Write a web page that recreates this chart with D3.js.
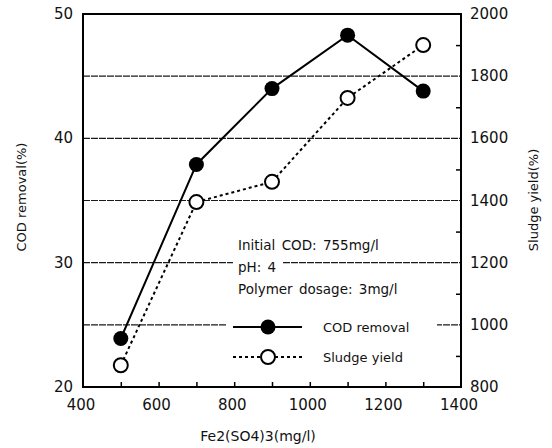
<!DOCTYPE html>
<html><head><meta charset="utf-8">
<script src="https://cdn.jsdelivr.net/npm/d3@7"></script>
<style>body{margin:0;background:#fff}text{font-family:"DejaVu Sans",sans-serif;fill:#111}</style>
</head><body><svg id="c" width="552" height="448"></svg>
<script>
const doses = [500, 700, 900, 1100, 1300];
const codRemoval = [23.9, 37.9, 44.0, 48.3, 43.8];
const sludgeYield = [870, 1395, 1460, 1730, 1900];
const xTicks = [400, 600, 800, 1000, 1200, 1400];
const leftTicks = [20, 30, 40, 50];
const rightTicks = [800, 1000, 1200, 1400, 1600, 1800, 2000];
const gridVals = [25, 30, 35, 40, 45];
const notes = ["Initial COD: 755mg/l", "pH: 4", "Polymer dosage: 3mg/l"];
const legendNames = ["COD removal", "Sludge yield"];

const svg = d3.select("#c");
const L = 83, R = 461, T = 14, B = 387;
const x = d3.scaleLinear().domain([400, 1400]).range([L, R]);
const yL = d3.scaleLinear().domain([20, 50]).range([B, T]);
const yR = d3.scaleLinear().domain([800, 2000]).range([B, T]);

// gridlines
svg.append("g").selectAll("line").data(gridVals).join("line")
  .attr("x1", L).attr("x2", R).attr("y1", d => yL(d)).attr("y2", d => yL(d))
  .attr("stroke", "#1a1a1a").attr("stroke-width", 1.2).attr("stroke-dasharray", "7,1");

// white backgrounds behind legend/notes
svg.append("rect").attr("x", 233).attr("y", 256).attr("width", 49).attr("height", 16).attr("fill", "#fff");
svg.append("rect").attr("x", 227).attr("y", 318).attr("width", 210).attr("height", 18).attr("fill", "#fff");

// frame
svg.append("rect").attr("x", L).attr("y", T).attr("width", R - L).attr("height", B - T)
  .attr("fill", "none").attr("stroke", "#000").attr("stroke-width", 2);

// axes
const xAxis = d3.axisBottom(x).tickValues(d3.range(500, 1400, 100)).tickSize(-5).tickFormat("");
svg.append("g").attr("transform", `translate(0,${B})`).call(xAxis)
  .call(g => { g.select(".domain").remove(); g.selectAll("line").attr("stroke-width", 1.5); });
svg.append("g").selectAll("text").data(xTicks).join("text")
  .attr("x", d => x(d) - 2).attr("y", 410).attr("text-anchor", "middle").attr("font-size", 15).text(d => d);

const rAxis = d3.axisRight(yR).tickValues(d3.range(900, 2000, 200)).tickSize(-5).tickFormat("");
svg.append("g").attr("transform", `translate(${R},0)`).call(rAxis)
  .call(g => { g.select(".domain").remove(); g.selectAll("line").attr("stroke-width", 1.5); });
svg.append("g").selectAll("text").data(rightTicks).join("text")
  .attr("x", 470).attr("y", d => yR(d) + 5).attr("font-size", 15).text(d => d);

svg.append("g").selectAll("text").data(leftTicks).join("text")
  .attr("x", 73).attr("y", d => yL(d) + 5).attr("text-anchor", "end").attr("font-size", 15).text(d => d);

// axis titles
svg.append("text").attr("transform", "translate(26,197) rotate(-90)").attr("text-anchor", "middle")
  .attr("font-size", 13).text("COD removal(%)");
svg.append("text").attr("transform", "translate(538,200) rotate(-90)").attr("text-anchor", "middle")
  .attr("font-size", 13).text("Sludge yield(%)");
svg.append("text").attr("x", 258).attr("y", 441).attr("text-anchor", "middle")
  .attr("font-size", 14).text("Fe2(SO4)3(mg/l)");

// series
const lineL = d3.line().x((d, i) => x(doses[i])).y(d => yL(d));
const lineR = d3.line().x((d, i) => x(doses[i])).y(d => yR(d));
svg.append("path").attr("d", lineR(sludgeYield)).attr("fill", "none").attr("stroke", "#000")
  .attr("stroke-width", 2).attr("stroke-dasharray", "3,3");
svg.append("path").attr("d", lineL(codRemoval)).attr("fill", "none").attr("stroke", "#000").attr("stroke-width", 2);
svg.append("g").selectAll("circle").data(codRemoval).join("circle")
  .attr("cx", (d, i) => x(doses[i])).attr("cy", d => yL(d)).attr("r", 7.5).attr("fill", "#000");
svg.append("g").selectAll("circle").data(sludgeYield).join("circle")
  .attr("cx", (d, i) => x(doses[i])).attr("cy", d => yR(d)).attr("r", 7).attr("fill", "#fff")
  .attr("stroke", "#000").attr("stroke-width", 2);

// notes
svg.append("g").selectAll("text").data(notes).join("text")
  .attr("x", 238).attr("y", (d, i) => 250 + i * 22).attr("font-size", 13.5)
  .attr("word-spacing", 2).text(d => d);

// legend
const ly = [327, 357];
svg.append("line").attr("x1", 233).attr("x2", 302).attr("y1", ly[0]).attr("y2", ly[0]).attr("stroke", "#000").attr("stroke-width", 2);
svg.append("circle").attr("cx", 268).attr("cy", ly[0]).attr("r", 7.5).attr("fill", "#000");
svg.append("line").attr("x1", 233).attr("x2", 302).attr("y1", ly[1]).attr("y2", ly[1]).attr("stroke", "#000").attr("stroke-width", 2).attr("stroke-dasharray", "3,3");
svg.append("circle").attr("cx", 268).attr("cy", ly[1]).attr("r", 7).attr("fill", "#fff").attr("stroke", "#000").attr("stroke-width", 2);
svg.append("g").selectAll("text").data(legendNames).join("text")
  .attr("x", 323).attr("y", (d, i) => ly[i] + 5).attr("font-size", 13).text(d => d);
</script></body></html>
